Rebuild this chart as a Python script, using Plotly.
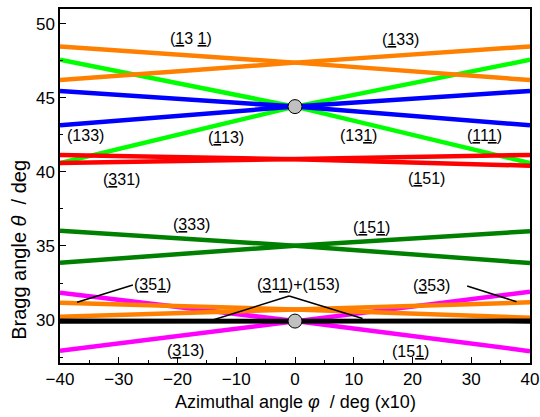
import plotly.graph_objects as go

# Azimuthal angle (x10 deg) at which each reflection pair is sampled
phi = [-40, 0, 40]

# Bragg angle of each reflection family: left-upper, left-lower, centre, right-upper, right-lower
families = {
    "orange_hi": dict(color="#FF8000", lu=48.47, ll=46.20, c=47.38, ru=48.47, rl=46.20),
    "green":     dict(color="#00FF00", lu=47.57, ll=40.60, c=44.41, ru=47.57, rl=40.60),
    "blue":      dict(color="#0000FF", lu=45.47, ll=43.15, c=44.41, ru=45.47, rl=43.15),
    "red":       dict(color="#FF0000", lu=41.15, ll=40.60, c=40.86, ru=41.15, rl=40.42),
    "dkgreen":   dict(color="#008000", lu=36.03, ll=33.87, c=35.02, ru=36.00, rl=33.85),
    "magenta":   dict(color="#FF00FF", lu=31.85, ll=27.92, c=29.93, ru=31.91, rl=27.90),
    "orange_lo": dict(color="#FF8000", lu=31.17, ll=30.22, c=30.72, ru=31.20, rl=30.16),
    "black":     dict(color="#000000", lu=29.95, ll=29.91, c=29.93, ru=29.95, rl=29.91),
}
draw_order = ["green", "orange_hi", "blue", "red", "dkgreen", "magenta", "orange_lo", "black"]

# Crossing points marked with grey circles
node_phi = [0, 0]
node_theta = [44.41, 29.93]

# Reflection labels
label_text = [
    "(<u>1</u>3 <u>1</u>)", "(<u>1</u>33)", "(133)", "(<u>1</u>13)", "(13<u>1</u>)",
    "(<u>1</u>1<u>1</u>)", "(<u>3</u>31)", "(<u>1</u>51)", "(<u>3</u>33)", "(<u>1</u>5<u>1</u>)",
    "(<u>3</u>5<u>1</u>)", "(<u>3</u>1<u>1</u>)+(153)", "(<u>3</u>53)", "(<u>3</u>13)", "(15<u>1</u>)",
]
label_phi = [-17.7, 17.9, -35.6, -11.7, 10.8, 32.3, -29.5, 22.3, -17.7, 13.1, -24.2, 0.6, 23.3, -18.7, 19.6]
label_theta = [48.99, 48.92, 42.43, 42.32, 42.43, 42.43, 39.50, 39.57, 36.42, 36.26, 32.43, 32.43, 32.30, 27.92, 27.86]

# Leader lines tying labels to their curves (phi0, theta0, phi1, theta1)
leaders = [
    (-37.1, 31.20, -27.6, 32.36),
    (29.3, 32.30, 37.7, 31.24),
    (-14.0, 30.00, -1.0, 31.62),
    (-1.0, 31.62, 11.5, 30.11),
]

FONT = "Liberation Sans, Arial, Helvetica, sans-serif"

fig = go.Figure()
for name in draw_order:
    f = families[name]
    for a, b in ((f["lu"], f["rl"]), (f["ll"], f["ru"])):
        fig.add_trace(go.Scatter(
            x=phi, y=[a, f["c"], b], mode="lines",
            line=dict(color=f["color"], width=4.5), hoverinfo="skip", showlegend=False,
        ))

for x0, y0, x1, y1 in leaders:
    fig.add_trace(go.Scatter(
        x=[x0, x1], y=[y0, y1], mode="lines",
        line=dict(color="black", width=1.5), hoverinfo="skip", showlegend=False,
    ))

fig.add_trace(go.Scatter(
    x=node_phi, y=node_theta, mode="markers",
    marker=dict(size=14, color="#C0C0C0", line=dict(color="black", width=1)),
    hoverinfo="skip", showlegend=False,
))

for t, x, y in zip(label_text, label_phi, label_theta):
    fig.add_annotation(x=x, y=y, text=t, showarrow=False,
                       font=dict(family=FONT, size=16, color="black"))

# Axis titles
fig.add_annotation(xref="paper", yref="paper", x=0.5, y=-0.11,
                   text="Azimuthal angle <i>φ</i>  / deg (x10)", showarrow=False,
                   xanchor="center", yanchor="middle",
                   font=dict(family=FONT, size=18, color="black"))
fig.add_annotation(xref="paper", yref="paper", x=-0.087, y=0.32,
                   text="Bragg angle <i>θ</i>  / deg", showarrow=False, textangle=-90,
                   xanchor="center", yanchor="middle",
                   font=dict(family=FONT, size=20, color="black"))

fig.update_layout(
    width=540, height=417,
    margin=dict(l=60, r=10, t=9, b=54),
    paper_bgcolor="white", plot_bgcolor="white",
    font=dict(family=FONT, size=17, color="black"),
)
fig.update_xaxes(
    range=[-40, 40], dtick=10, tick0=0, automargin=False,
    ticks="inside", ticklen=6, tickwidth=1.2, tickcolor="black",
    minor=dict(dtick=5, ticks="inside", ticklen=3, tickcolor="black"),
    showline=True, linecolor="black", linewidth=1.5, mirror=True,
    showgrid=False, zeroline=False,
)
fig.update_yaxes(
    range=[27.1, 51.0], dtick=5, tick0=0, automargin=False,
    ticks="inside", ticklen=6, tickwidth=1.2, tickcolor="black",
    minor=dict(dtick=2.5, ticks="inside", ticklen=3, tickcolor="black"),
    showline=True, linecolor="black", linewidth=1.5, mirror=True,
    showgrid=False, zeroline=False,
)

fig.write_html("out.html")
